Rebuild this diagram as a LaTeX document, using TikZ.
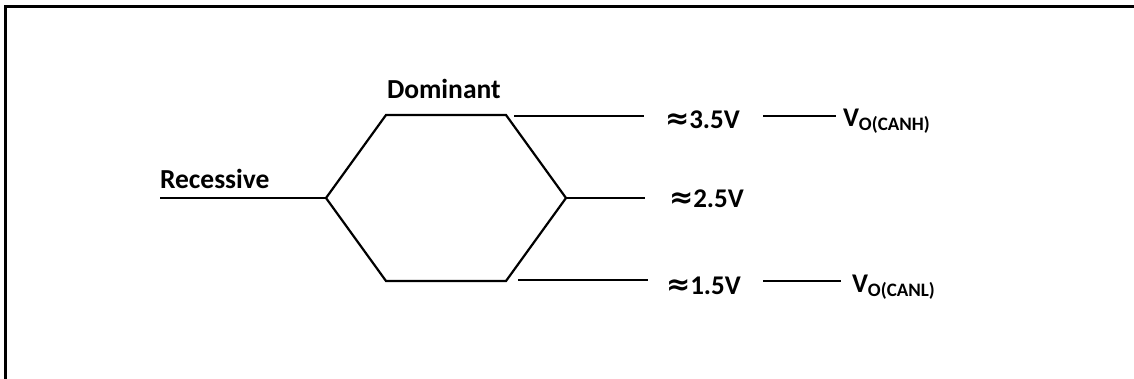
\documentclass[tikz,border=0pt]{standalone}
\usepackage{fontspec}
\setmainfont{Carlito}
\newfontfamily\symfont{DejaVu Sans}
\tikzset{
  wire/.style={line width=2.2pt, line cap=butt, line join=miter},
  frame/.style={line width=3pt},
  lbl/.style={inner sep=0pt, outer sep=0pt, anchor=base west, font=\bfseries\fontsize{27.5}{32}\selectfont},
  vlbl/.style={inner sep=0pt, outer sep=0pt, anchor=base west, font=\bfseries\fontsize{27}{32}\selectfont},
}
\newcommand{\sigsub}[1]{\raisebox{-4pt}{\fontsize{19}{22}\selectfont #1}}
\newcommand{\apx}{{\symfont\fontsize{29}{32}\selectfont ≈}}
\begin{document}
\begin{tikzpicture}[x=1pt,y=-1pt]
\useasboundingbox (0,0) rectangle (1134,379);
% frame
\draw[frame] (5,380) -- (5,7) -- (1135,7);
% hexagon vertices
\coordinate (rs) at (160,198);
\coordinate (lv) at (326,198);
\coordinate (tl) at (386,115);
\coordinate (tr) at (506,115);
\coordinate (rv) at (566,198);
\coordinate (br) at (506,281);
\coordinate (bl) at (386,281);
\draw[wire] (rs) -- (lv);
\draw[wire] (lv) -- (tl) -- (tr) -- (rv) -- (br) -- (bl) -- cycle;
% output lines
\coordinate (h1) at (514,116);
\coordinate (h2) at (644,116);
\coordinate (m2) at (645,198);
\coordinate (l1) at (518,280);
\coordinate (l2) at (648,280);
\draw[wire] (h1) -- (h2);
\draw[wire] (rv) -- (m2);
\draw[wire] (l1) -- (l2);
% labels
\node[lbl] (rec) at (160,189) {Recessive};
\node[lbl] (dom) at (387,99) {Dominant};
\node[vlbl] (v35) at (665,129) {\apx3.5V};
\node[vlbl] (v25) at (669,208) {\apx2.5V};
\node[vlbl] (v15) at (666,294) {\apx1.5V};
\node[vlbl] (canh) at (843,127) {V\sigsub{O(CANH)}};
\node[vlbl] (canl) at (852,292) {V\sigsub{O(CANL)}};
\coordinate (ch1) at (763,116);
\coordinate (cl1) at (763,281);
\draw[wire] (ch1) -- ([xshift=-7pt]canh.west |- ch1);
\draw[wire] (cl1) -- ([xshift=-11pt]canl.west |- cl1);
\end{tikzpicture}
\end{document}
